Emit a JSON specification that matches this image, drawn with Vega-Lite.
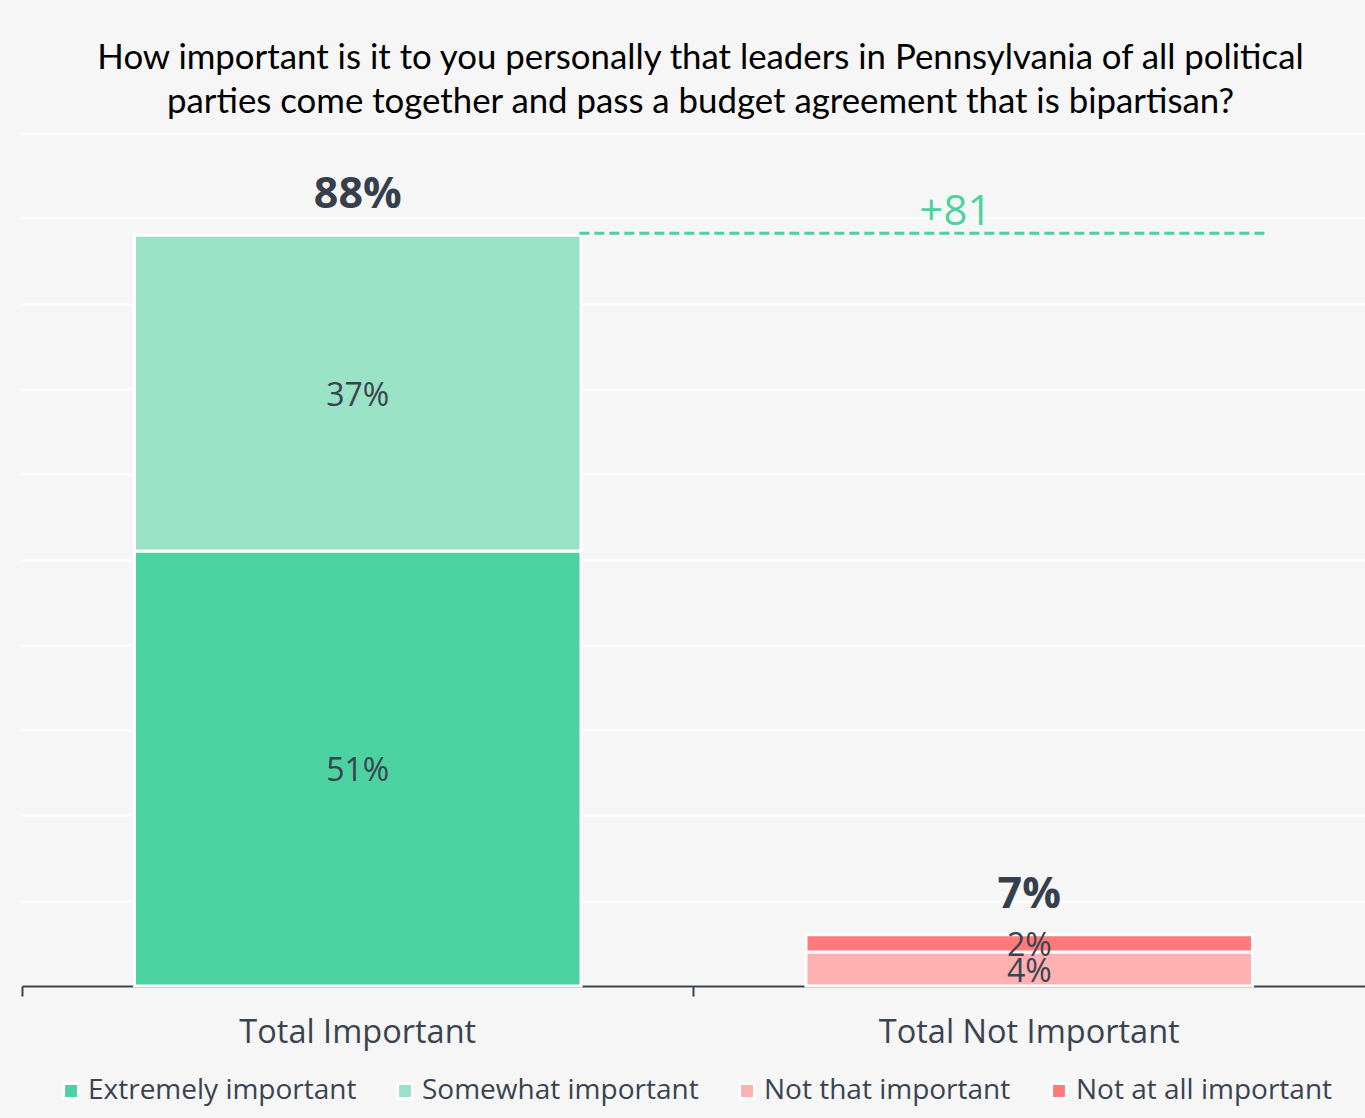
{
  "$schema": "https://vega.github.io/schema/vega-lite/v6.json",
  "width": 1343,
  "height": 853,
  "autosize": {"type": "none"},
  "padding": {"left": 22, "top": 133, "right": 0, "bottom": 132},
  "background": "#f6f6f6",
  "config": {
    "view": {"stroke": null, "fill": "#f6f6f6"},
    "font": "Open Sans"
  },
  "title": {
    "text": ["How important is it to you personally that leaders in Pennsylvania of all political", "parties come together and pass a budget agreement that is bipartisan?"],
    "font": "Lato",
    "fontSize": 34.8,
    "fontWeight": "normal",
    "color": "#000000",
    "lineHeight": 44,
    "anchor": "middle",
    "offset": 12,
    "dx": 7
  },
  "datasets": {
    "segments": [
      {"cat": "Total Important", "level": "Extremely important", "value": 0.51, "total": 0.88},
      {"cat": "Total Important", "level": "Somewhat important", "value": 0.37, "total": 0.88},
      {"cat": "Total Not Important", "level": "Not that important", "value": 0.04, "total": 0.07},
      {"cat": "Total Not Important", "level": "Not at all important", "value": 0.02, "total": 0.07}
    ],
    "margin": [
      {"from": "Total Important", "to": "Total Not Important", "level": 0.88, "margin": 81}
    ]
  },
  "resolve": {"axis": {"x": "independent"}},
  "layer": [
    {
      "data": {"name": "segments"},
      "transform": [
        {"stack": "value", "groupby": ["cat"], "sort": [{"field": "value", "order": "descending"}], "as": ["v0", "v1"]}
      ],
      "mark": {"type": "bar", "width": {"band": 0.665}, "stroke": "white", "strokeWidth": 3},
      "encoding": {
        "x": {
          "field": "cat", "type": "nominal", "sort": ["Total Important", "Total Not Important"],
          "scale": {"paddingInner": 0, "paddingOuter": 0},
          "axis": {"title": null, "orient": "bottom", "labelAngle": 0, "ticks": false, "domain": true, "domainColor": "#3c4450", "domainWidth": 2, "labelFontSize": 32.5, "labelColor": "#3a4350", "labelPadding": 30, "labelFont": "Open Sans", "labelLimit": 600}
        },
        "y": {
          "field": "v1", "type": "quantitative",
          "scale": {"domain": [0, 1]},
          "axis": {"title": null, "labels": false, "ticks": false, "domain": false, "grid": true, "gridColor": "#ffffff", "gridWidth": 2, "values": [0, 0.1, 0.2, 0.3, 0.4, 0.5, 0.6, 0.7, 0.8, 0.9, 1]}
        },
        "y2": {"field": "v0"},
        "color": {
          "field": "level", "type": "nominal",
          "scale": {
            "domain": ["Extremely important", "Somewhat important", "Not that important", "Not at all important"],
            "range": ["#4cd2a0", "#99e2c6", "#ffb0b0", "#ff7b7b"]
          },
          "legend": {
            "title": null, "orient": "none", "legendX": 35, "legendY": 944, "direction": "horizontal",
            "symbolType": "square", "symbolSize": 220, "symbolStrokeColor": "white", "symbolStrokeWidth": 3,
            "symbolOpacity": 1,
            "labelFontSize": 28, "labelColor": "#3a4350", "labelFont": "Open Sans",
            "columnPadding": 34, "labelLimit": 400, "labelOffset": 3
          }
        }
      }
    },
    {
      "data": {"name": "segments"},
      "transform": [
        {"stack": "value", "groupby": ["cat"], "sort": [{"field": "value", "order": "descending"}], "as": ["v0", "v1"]},
        {"fold": ["v0", "v1"], "as": ["edge", "pos"]},
        {"aggregate": [{"op": "mean", "field": "pos", "as": "mid"}, {"op": "max", "field": "value", "as": "value"}], "groupby": ["cat", "level"]}
      ],
      "mark": {"type": "text", "fontSize": 32, "color": "#3a4350", "baseline": "middle", "dy": 3, "font": "Open Sans"},
      "encoding": {
        "x": {"field": "cat", "type": "nominal", "sort": ["Total Important", "Total Not Important"], "axis": null},
        "y": {"field": "mid", "type": "quantitative"},
        "text": {"field": "value", "type": "quantitative", "format": ".0%"}
      }
    },
    {
      "data": {"name": "segments"},
      "transform": [
        {"stack": "value", "groupby": ["cat"], "sort": [{"field": "value", "order": "descending"}], "as": ["v0", "v1"]},
        {"aggregate": [{"op": "max", "field": "v1", "as": "top"}, {"op": "max", "field": "total", "as": "total"}], "groupby": ["cat"]}
      ],
      "mark": {"type": "text", "fontSize": 43, "fontWeight": "bold", "color": "#363f4c", "baseline": "alphabetic", "dy": -27, "font": "Open Sans"},
      "encoding": {
        "x": {"field": "cat", "type": "nominal", "sort": ["Total Important", "Total Not Important"], "axis": null},
        "y": {"field": "top", "type": "quantitative"},
        "text": {"field": "total", "type": "quantitative", "format": ".0%"}
      }
    },
    {
      "data": {"name": "margin"},
      "mark": {"type": "rule", "color": "#4cd2a0", "strokeWidth": 3, "strokeDash": [10, 5], "yOffset": -2},
      "encoding": {
        "x": {
          "field": "from", "type": "nominal", "sort": ["Total Important", "Total Not Important"], "bandPosition": 0.83,
          "axis": {"title": null, "orient": "bottom", "labels": false, "domain": false, "ticks": true, "bandPosition": 0, "tickSize": 10, "tickColor": "#3c4450", "tickWidth": 2}
        },
        "x2": {"field": "to", "bandPosition": 0.855},
        "y": {"field": "level", "type": "quantitative"}
      }
    },
    {
      "data": {"name": "margin"},
      "mark": {"type": "text", "fontSize": 42, "color": "#4cd2a0", "baseline": "alphabetic", "dy": -10, "font": "Open Sans"},
      "encoding": {
        "x": {"field": "to", "type": "nominal", "sort": ["Total Important", "Total Not Important"], "bandPosition": 0.39, "axis": null},
        "y": {"field": "level", "type": "quantitative"},
        "text": {"field": "margin", "type": "quantitative", "format": "+d"}
      }
    }
  ]
}
